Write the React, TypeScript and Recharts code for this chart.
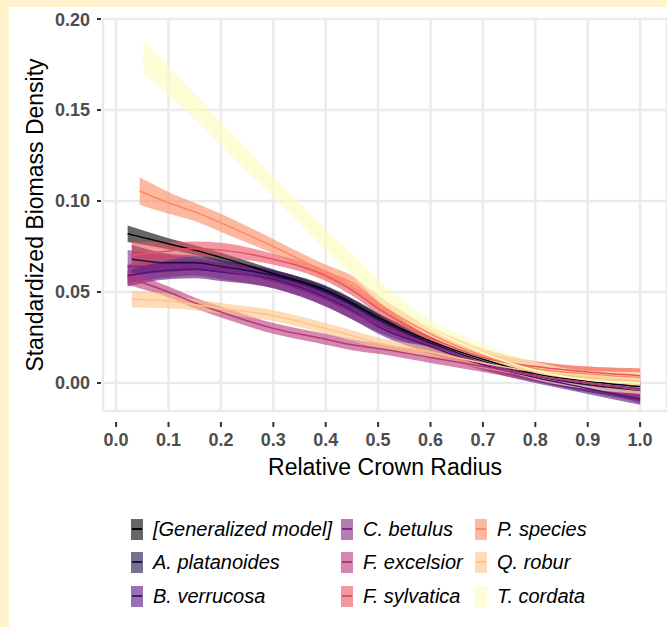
import React from "react";
import { ComposedChart, Area, Line, XAxis, YAxis, CartesianGrid } from "recharts";

const FONT = "'Liberation Sans', Arial, Helvetica, sans-serif";

// relative crown radius sample points (shared by every series)
const radius = [0.022, 0.03, 0.045, 0.052, 0.1, 0.15, 0.2, 0.3, 0.4, 0.45, 0.5, 0.6, 0.7, 0.8, 0.9, 1.0];

const n = null;
// fitted means
const genMid = [0.082, n, n, n, 0.0765, 0.073, 0.069, 0.06, 0.051, 0.044, 0.036, 0.023, 0.013, 0.005, 0.001, -0.002];
const aplMid = [n, 0.068, n, n, 0.066, 0.066, 0.064, 0.059, 0.05, 0.043, 0.035, 0.022, 0.012, 0.004, -0.001, -0.004];
const bveMid = [0.059, n, n, n, 0.062, 0.0625, 0.061, 0.057, 0.047, 0.04, 0.031, 0.02, 0.01, 0.003, -0.003, -0.009];
const cbeMid = [0.064, n, n, n, 0.064, 0.064, 0.062, 0.056, 0.046, 0.039, 0.032, 0.021, 0.011, 0.004, 0.0, -0.003];
const fexMid = [0.058, n, n, n, 0.05, 0.044, 0.039, 0.03, 0.024, 0.021, 0.019, 0.014, 0.009, 0.004, 0.0, -0.004];
const fsyMid = [n, 0.07, n, n, 0.0725, 0.0737, 0.073, 0.068, 0.059, 0.051, 0.041, 0.025, 0.014, 0.009, 0.006, 0.004];
const pspMid = [n, n, 0.1055, n, 0.099, 0.094, 0.088, 0.075, 0.061, 0.055, 0.044, 0.027, 0.015, 0.008, 0.005, 0.003];
const qroMid = [n, 0.046, n, n, 0.045, 0.043, 0.041, 0.037, 0.03, 0.026, 0.022, 0.017, 0.011, 0.006, 0.003, 0.001];
const tcoMid = [n, n, n, 0.179, 0.166, 0.152, 0.137, 0.108, 0.079, 0.065, 0.051, 0.03, 0.0165, 0.0068, 0.0016, 0.0];

// confidence band half widths
const genHw = [0.0045, n, n, n, 0.003, 0.0027, 0.0025, 0.0025, 0.0025, 0.0025, 0.0025, 0.0022, 0.002, 0.002, 0.002, 0.003];
const aplHw = [n, 0.008, n, n, 0.005, 0.004, 0.0035, 0.003, 0.003, 0.003, 0.003, 0.003, 0.003, 0.003, 0.004, 0.006];
const bveHw = [0.006, n, n, n, 0.005, 0.005, 0.005, 0.005, 0.005, 0.005, 0.004, 0.004, 0.003, 0.003, 0.003, 0.003];
const cbeHw = [0.009, n, n, n, 0.006, 0.005, 0.005, 0.004, 0.004, 0.004, 0.004, 0.003, 0.003, 0.003, 0.004, 0.008];
const fexHw = [0.004, n, n, n, 0.003, 0.003, 0.003, 0.003, 0.003, 0.003, 0.003, 0.003, 0.003, 0.003, 0.003, 0.004];
const fsyHw = [n, 0.0075, n, n, 0.005, 0.004, 0.004, 0.003, 0.003, 0.003, 0.003, 0.003, 0.003, 0.003, 0.003, 0.004];
const pspHw = [n, n, 0.0075, n, 0.006, 0.005, 0.005, 0.004, 0.004, 0.004, 0.004, 0.004, 0.004, 0.004, 0.004, 0.005];
const qroHw = [n, 0.0045, n, n, 0.004, 0.003, 0.003, 0.003, 0.003, 0.003, 0.003, 0.003, 0.003, 0.003, 0.003, 0.004];
const tcoHw = [n, n, n, 0.0095, 0.008, 0.007, 0.0065, 0.006, 0.006, 0.006, 0.006, 0.005, 0.005, 0.005, 0.005, 0.006];

const species = [
  { key: "gen", name: "[Generalized model]", color: "#000004", mid: genMid, hw: genHw },
  { key: "apl", name: "A. platanoides", color: "#1D1147", mid: aplMid, hw: aplHw },
  { key: "bve", name: "B. verrucosa", color: "#51127C", mid: bveMid, hw: bveHw },
  { key: "cbe", name: "C. betulus", color: "#822681", mid: cbeMid, hw: cbeHw },
  { key: "fex", name: "F. excelsior", color: "#B73779", mid: fexMid, hw: fexHw },
  { key: "fsy", name: "F. sylvatica", color: "#E75263", mid: fsyMid, hw: fsyHw },
  { key: "psp", name: "P. species", color: "#FC8961", mid: pspMid, hw: pspHw },
  { key: "qro", name: "Q. robur", color: "#FEC488", mid: qroMid, hw: qroHw },
  { key: "tco", name: "T. cordata", color: "#FCFDBF", mid: tcoMid, hw: tcoHw },
];

const xTicks = [0, 0.1, 0.2, 0.3, 0.4, 0.5, 0.6, 0.7, 0.8, 0.9, 1.0];
const yTicks = [0, 0.05, 0.1, 0.15, 0.2];

const data = radius.map((r, i) => {
  const row: any = { x: r };
  species.forEach((s) => {
    const m = s.mid[i];
    const h = s.hw[i];
    row[s.key] = m;
    row[s.key + "_band"] = m == null || h == null ? null : [m - h, m + h];
  });
  return row;
});

function YTick({ x, y, payload }: any) {
  return (
    <g>
      <line x1={x - 6} x2={x - 2} y1={y} y2={y} stroke="#333333" strokeWidth={2} />
      <text x={x - 13} y={y + 6.5} textAnchor="end" fill="#4D4D4D" fontSize={18} fontWeight="bold" fontFamily={FONT}>
        {Number(payload.value).toFixed(2)}
      </text>
    </g>
  );
}

function XTick({ x, y, payload }: any) {
  return (
    <g>
      <line x1={x} x2={x} y1={y + 11} y2={y + 16} stroke="#333333" strokeWidth={2} />
      <text x={x} y={y + 35} textAnchor="middle" fill="#4D4D4D" fontSize={18} fontWeight="bold" fontFamily={FONT}>
        {Number(payload.value).toFixed(1)}
      </text>
    </g>
  );
}

const legendCols = [122, 332, 466];
const legendRows = [522, 555, 589];

export default function App() {
  return (
    <div style={{ position: "absolute", left: 0, top: 0, width: 667, height: 627, background: "#FFF2CC" }}>
      <div style={{ position: "absolute", left: 9, top: 7, width: 658, height: 620, background: "#FFFFFF", overflow: "hidden" }}>
        <ComposedChart width={658} height={620} data={data} margin={{ top: 12, right: 0, left: 0, bottom: 156 }}>
          <CartesianGrid stroke="#EBEBEB" strokeWidth={2.5} />
          <XAxis
            dataKey="x"
            type="number"
            domain={[-0.025, 1.0513]}
            ticks={xTicks}
            interval={0}
            allowDataOverflow
            height={60}
            axisLine={false}
            tickLine={false}
            tickSize={0}
            tickMargin={0}
            tick={<XTick />}
            label={(p: any) => {
              const vb = p.viewBox || { x: 94, y: 404, width: 564 };
              return (
                <text x={vb.x + vb.width / 2} y={vb.y + 64} textAnchor="middle" fill="#000000" fontSize={23} fontFamily={FONT}>
                  Relative Crown Radius
                </text>
              );
            }}
          />
          <YAxis
            type="number"
            domain={[-0.0154, 0.2]}
            ticks={yTicks}
            interval={0}
            allowDataOverflow
            width={94}
            axisLine={false}
            tickLine={false}
            tickSize={0}
            tickMargin={0}
            tick={<YTick />}
            label={(p: any) => {
              const vb = p.viewBox || { x: 0, y: 12, height: 392 };
              const cx = 33.5;
              const cy = vb.y + vb.height / 2;
              return (
                <text x={cx} y={cy} transform={`rotate(-90, ${cx}, ${cy})`} textAnchor="middle" fill="#000000" fontSize={23} fontFamily={FONT}>
                  Standardized Biomass Density
                </text>
              );
            }}
          />
          {species.map((s) => (
            <Area
              key={s.key + "_band"}
              type="monotone"
              dataKey={s.key + "_band"}
              stroke="none"
              fill={s.color}
              fillOpacity={0.6}
              connectNulls
              dot={false}
              activeDot={false}
              isAnimationActive={false}
            />
          ))}
          {species.map((s) => (
            <Line
              key={s.key}
              type="monotone"
              dataKey={s.key}
              stroke={s.color}
              strokeWidth={1.5}
              connectNulls
              dot={false}
              activeDot={false}
              isAnimationActive={false}
            />
          ))}
        </ComposedChart>
        {species.map((s, i) => {
          const col = Math.floor(i / 3);
          const row = i % 3;
          const kx = legendCols[col];
          const cy = legendRows[row];
          return (
            <div key={s.key + "_leg"}>
              <div style={{ position: "absolute", left: kx, top: cy - 10.5, width: 12, height: 21, background: s.color, opacity: 0.6 }} />
              <div style={{ position: "absolute", left: kx + 1, top: cy - 0.75, width: 10, height: 1.5, background: s.color }} />
              <div
                style={{
                  position: "absolute",
                  left: kx + 22,
                  top: cy - 13,
                  height: 26,
                  lineHeight: "26px",
                  fontFamily: FONT,
                  fontStyle: "italic",
                  fontSize: 20,
                  color: "#000000",
                  whiteSpace: "nowrap",
                }}
              >
                {s.name}
              </div>
            </div>
          );
        })}
      </div>
    </div>
  );
}
